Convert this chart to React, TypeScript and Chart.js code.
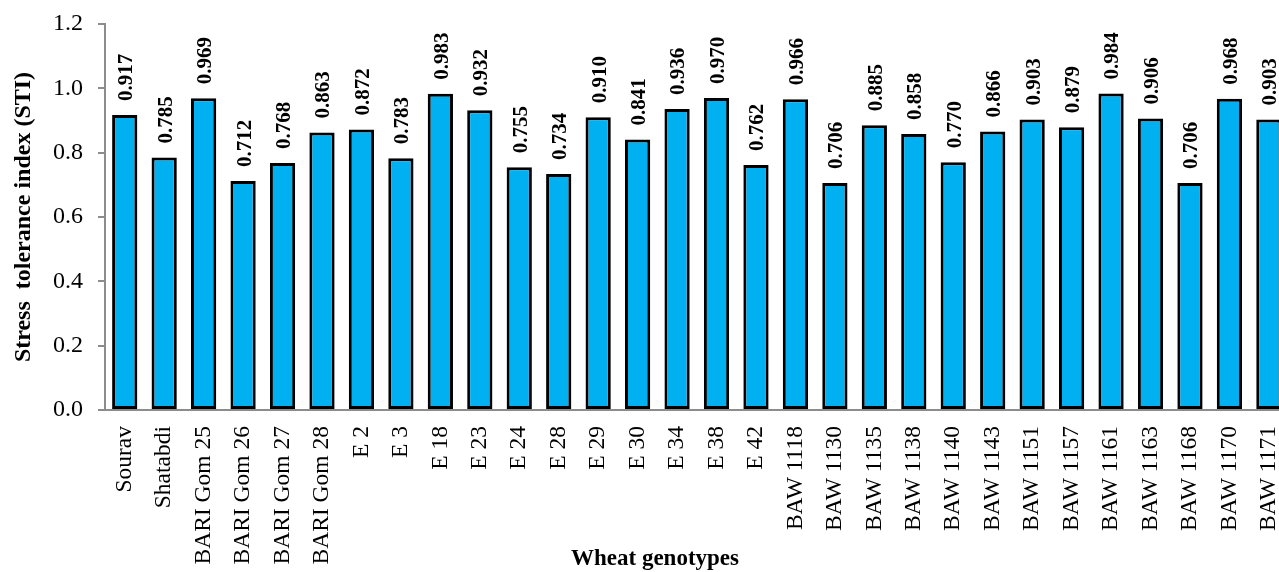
import React, { useEffect, useRef } from "react";
import { Chart, registerables } from "chart.js";

Chart.register(...registerables);

const genotypes: string[] = [
  "Sourav", "Shatabdi", "BARI Gom 25", "BARI Gom 26", "BARI Gom 27", "BARI Gom 28",
  "E 2", "E 3", "E 18", "E 23", "E 24", "E 28", "E 29", "E 30", "E 34", "E 38", "E 42",
  "BAW 1118", "BAW 1130", "BAW 1135", "BAW 1138", "BAW 1140", "BAW 1143", "BAW 1151",
  "BAW 1157", "BAW 1161", "BAW 1163", "BAW 1168", "BAW 1170", "BAW 1171",
];

const stiValues: number[] = [
  0.917, 0.785, 0.969, 0.712, 0.768, 0.863,
  0.872, 0.783, 0.983, 0.932, 0.755, 0.734, 0.910, 0.841, 0.936, 0.970, 0.762,
  0.966, 0.706, 0.885, 0.858, 0.770, 0.866, 0.903,
  0.879, 0.984, 0.906, 0.706, 0.968, 0.903,
];

const yTitle = "Stress  tolerance index (STI)";
const xTitle = "Wheat genotypes";

const SERIF = "'Liberation Serif', 'Times New Roman', serif";

const valueLabels = {
  id: "valueLabels",
  afterDatasetsDraw(chart: any) {
    const ctx = chart.ctx;
    const meta = chart.getDatasetMeta(0);
    ctx.save();
    ctx.font = `bold 21px ${SERIF}`;
    ctx.fillStyle = "#000";
    ctx.textAlign = "left";
    ctx.textBaseline = "middle";
    meta.data.forEach((bar: any, i: number) => {
      ctx.save();
      ctx.translate(bar.x + 2, bar.y - 14);
      ctx.rotate(-Math.PI / 2);
      ctx.fillText(stiValues[i].toFixed(3), 0, 0);
      ctx.restore();
    });
    ctx.restore();
  },
};

const xTitlePlugin = {
  id: "xTitlePlugin",
  afterDraw(chart: any) {
    const ctx = chart.ctx;
    ctx.save();
    ctx.font = `bold 23px ${SERIF}`;
    ctx.fillStyle = "#000";
    ctx.textAlign = "center";
    ctx.textBaseline = "middle";
    ctx.fillText(xTitle, 655, 559);
    ctx.restore();
  },
};

export default function App() {
  const canvasRef = useRef<HTMLCanvasElement | null>(null);

  useEffect(() => {
    document.body.style.margin = "0";
    const canvas = canvasRef.current;
    if (!canvas) return;
    const chart = new Chart(canvas, {
      type: "bar",
      data: {
        labels: genotypes,
        datasets: [
          {
            data: stiValues,
            backgroundColor: "#00B0F0",
            borderColor: "#000000",
            borderWidth: 3,
            borderSkipped: false,
            barPercentage: 0.64,
            categoryPercentage: 1,
          },
        ],
      },
      options: {
        responsive: false,
        animation: false,
        devicePixelRatio: 1,
        layout: { padding: { left: 0, top: 24, right: 11.4, bottom: 0 } },
        plugins: {
          legend: { display: false },
          tooltip: { enabled: false },
        },
        scales: {
          x: {
            grid: { display: false, drawTicks: false },
            border: { display: true, color: "#8c8c8c", width: 2 },
            ticks: {
              color: "#000",
              font: { family: SERIF, size: 23.5 },
              minRotation: 90,
              maxRotation: 90,
              autoSkip: false,
              padding: 16,
            },
            afterFit: (s: any) => {
              s.height = 162;
              s.paddingLeft = 0;
              s.paddingRight = 0;
            },
          },
          y: {
            min: 0,
            max: 1.2,
            grid: {
              display: true,
              drawOnChartArea: false,
              drawTicks: true,
              tickLength: 7,
              color: "#8c8c8c",
              lineWidth: 2,
            },
            border: { display: true, color: "#8c8c8c", width: 2 },
            ticks: {
              stepSize: 0.2,
              color: "#000",
              font: { family: SERIF, size: 24 },
              padding: 15,
              callback: (v: any) => Number(v).toFixed(1),
            },
            title: {
              display: true,
              text: yTitle,
              color: "#000",
              font: { family: SERIF, size: 24, weight: "bold" },
              padding: { top: 9, bottom: 0 },
            },
            afterFit: (s: any) => {
              s.width = 105;
              s.paddingTop = 0;
              s.paddingBottom = 0;
            },
          },
        },
      },
      plugins: [valueLabels, xTitlePlugin],
    });
    return () => chart.destroy();
  }, []);

  return (
    <div
      style={{
        position: "fixed",
        left: 0,
        top: 0,
        width: 1279,
        height: 572,
        overflow: "hidden",
        background: "#fff",
      }}
    >
      <canvas
        ref={canvasRef}
        width={1300}
        height={572}
        style={{ width: 1300, height: 572, display: "block" }}
      />
    </div>
  );
}
